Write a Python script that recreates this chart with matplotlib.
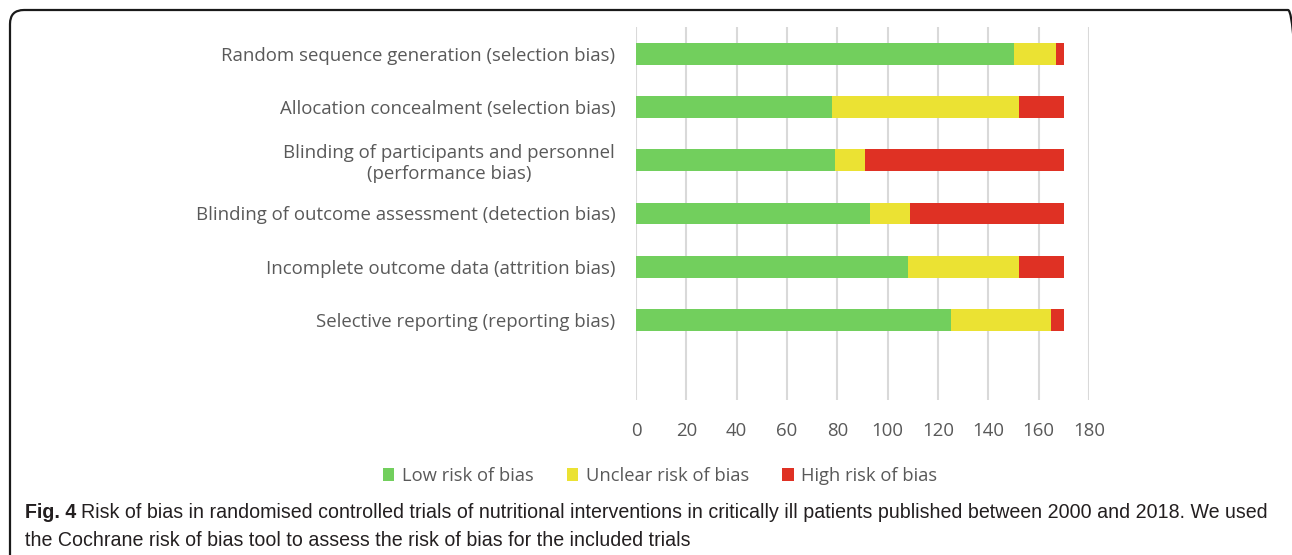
import matplotlib.pyplot as plt
from matplotlib.patches import FancyBboxPatch
from matplotlib.transforms import IdentityTransform

categories = [
    "Random sequence generation (selection bias)",
    "Allocation concealment (selection bias)",
    "Blinding of participants and personnel\n(performance bias)",
    "Blinding of outcome assessment (detection bias)",
    "Incomplete outcome data (attrition bias)",
    "Selective reporting (reporting bias)",
]
low = [150, 78, 79, 93, 108, 125]
unclear = [17, 74, 12, 16, 44, 40]
high = [3, 18, 79, 61, 18, 5]
series_names = ["Low risk of bias", "Unclear risk of bias", "High risk of bias"]
colors = ["#72cf5d", "#ebe233", "#df3124"]
xticks = list(range(0, 181, 20))

caption_bold = "Fig. 4"
caption_1 = ("Risk of bias in randomised controlled trials of nutritional interventions in "
             "critically ill patients published between 2000 and 2018. We used")
caption_2 = "the Cochrane risk of bias tool to assess the risk of bias for the included trials"

plt.rcParams["font.family"] = ["Open Sans", "DejaVu Sans"]
text_gray = "#595959"
W, H = 1292, 555

fig = plt.figure(figsize=(W / 100, H / 100), dpi=100)
fig.patch.set_facecolor("white")

# rounded frame around the panel (pixel coordinates), right edge runs off the image
frame = FancyBboxPatch((10, -40), 1292, H - 10 + 40,
                       boxstyle="round,pad=0,rounding_size=14",
                       transform=IdentityTransform(), fill=False,
                       edgecolor="#1a1a1a", linewidth=1.6, clip_on=False)
fig.patches.append(frame)

ax = fig.add_axes([636 / W, 1 - 400 / H, (1089 - 636) / W, (400 - 27) / H])

ypos = list(range(len(categories)))
left = [0] * len(categories)
for vals, name, col in zip([low, unclear, high], series_names, colors):
    ax.barh(ypos, vals, left=left, height=0.41, color=col, label=name,
            edgecolor="none", zorder=3)
    left = [a + b for a, b in zip(left, vals)]

ax.set_ylim(6.5, -0.5)
ax.set_xlim(0, 180)
ax.set_xticks(xticks)
ax.set_yticks(ypos)
ax.set_yticklabels(categories, fontsize=13.4, color=text_gray, multialignment="center")
ax.tick_params(axis="x", labelsize=13.4, colors=text_gray, length=0, pad=16)
ax.tick_params(axis="y", length=0, pad=15)
ax.grid(axis="x", color="#d9d9d9", linewidth=1.5, zorder=0)
for s in ax.spines.values():
    s.set_visible(False)

leg = fig.legend(loc="center", bbox_to_anchor=(660 / W, 1 - 476 / H), ncol=3,
                 frameon=False, fontsize=13.2, handlelength=0.65, handleheight=0.65,
                 columnspacing=1.8, handletextpad=0.4)
for t in leg.get_texts():
    t.set_color(text_gray)

# caption: fit the first line between x=25 and x=1262
cap_font = ["Liberation Sans", "DejaVu Sans"]
cap_color = "#231f20"
size = 13.0
renderer = fig.canvas.get_renderer()
t_bold = fig.text(25 / W, 1 - 512 / H, caption_bold, fontsize=size, fontweight="bold",
                  color=cap_color, va="center", family=cap_font)
t1 = fig.text(0, 1 - 512 / H, caption_1, fontsize=size, color=cap_color,
              va="center", family=cap_font)
for _ in range(3):
    bw = t_bold.get_window_extent(renderer).width
    gap = size * 0.35
    w1 = t1.get_window_extent(renderer).width
    size = size * (1262 - 25 - gap) / (bw + w1)
    t_bold.set_fontsize(size)
    t1.set_fontsize(size)
bw = t_bold.get_window_extent(renderer).width
t1.set_x((25 + bw + size * 0.35) / W)
fig.text(25 / W, 1 - 540 / H, caption_2, fontsize=size, color=cap_color,
         va="center", family=cap_font)

fig.savefig("out.png", dpi=100)
